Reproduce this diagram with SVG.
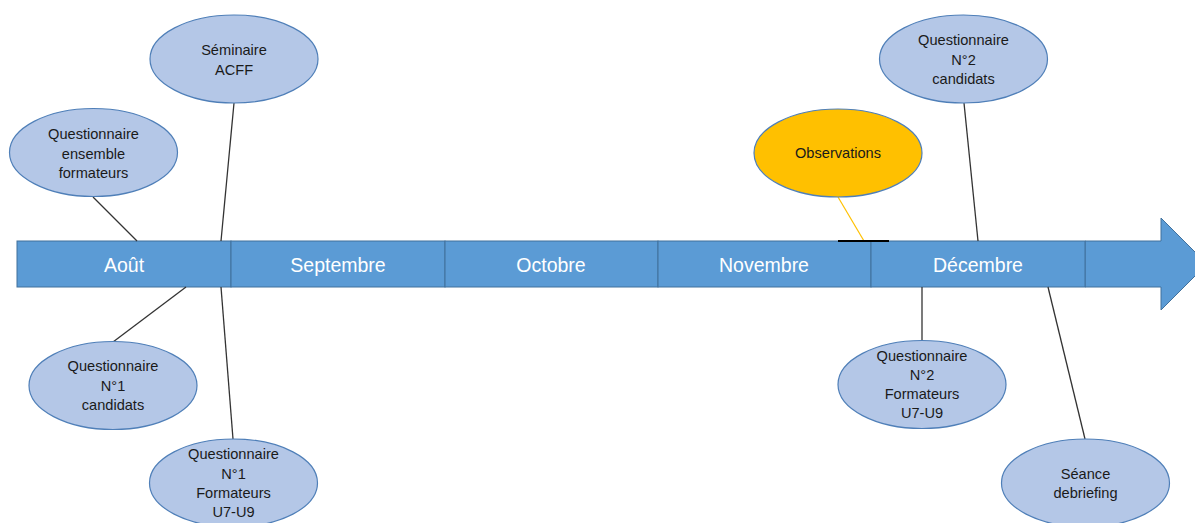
<svg xmlns="http://www.w3.org/2000/svg" width="1195" height="523" viewBox="0 0 1195 523">
<style>
.bg{fill:#ffffff}
.bar{fill:#5B9BD5;stroke:#41719C;stroke-width:1}
.month{font-family:"Liberation Sans",Arial,sans-serif;font-size:19.5px;fill:#ffffff;text-anchor:middle}
.node ellipse{fill:#B4C7E7;stroke:#4F7FB8;stroke-width:1.2}
.node text{font-family:"Liberation Sans",Arial,sans-serif;font-size:14.6px;fill:#1a1a1a;text-anchor:middle}
.obs ellipse{fill:#FFC000;stroke:#4F7FB8;stroke-width:1.2}
.conn line{stroke:#333333;stroke-width:1.3}
</style>
<rect class="bg" x="0" y="0" width="1195" height="523"/>
<g id="timeline">
<path class="bar" d="M1085,241 L1161,241 L1161,218 L1207,264 L1161,310 L1161,287 L1085,287 Z"/>
<rect class="bar" x="17" y="241" width="214" height="46"/>
<rect class="bar" x="231" y="241" width="214" height="46"/>
<rect class="bar" x="445" y="241" width="213" height="46"/>
<rect class="bar" x="658" y="241" width="213" height="46"/>
<rect class="bar" x="871" y="241" width="214" height="46"/>
<text class="month" x="124" y="272">Août</text>
<text class="month" x="338" y="272">Septembre</text>
<text class="month" x="551" y="272">Octobre</text>
<text class="month" x="764" y="272">Novembre</text>
<text class="month" x="978" y="272">Décembre</text>
</g>
<g id="connectors" class="conn">
<line x1="93" y1="197" x2="137" y2="241"/>
<line x1="234" y1="103" x2="221" y2="241"/>
<line x1="221" y1="287" x2="233" y2="439"/>
<line x1="186" y1="287" x2="113" y2="342"/>
<line x1="838" y1="197" x2="864" y2="241" style="stroke:#FFC000;stroke-width:1.2"/>
<line x1="838" y1="241" x2="889" y2="241" style="stroke:#000000;stroke-width:2"/>
<line x1="964" y1="103" x2="978" y2="241"/>
<line x1="922" y1="287" x2="922" y2="341"/>
<line x1="1048" y1="287" x2="1085" y2="439"/>
</g>
<g id="n-seminaire" class="node">
<ellipse cx="234" cy="59" rx="84" ry="44"/>
<text x="234" y="55">Séminaire</text>
<text x="234" y="75">ACFF</text>
</g>
<g id="n-q-ensemble" class="node">
<ellipse cx="93.5" cy="152.5" rx="84" ry="44"/>
<text x="93.5" y="139">Questionnaire</text>
<text x="93.5" y="159">ensemble</text>
<text x="93.5" y="178">formateurs</text>
</g>
<g id="n-q1-candidats" class="node">
<ellipse cx="113" cy="385.5" rx="84" ry="44"/>
<text x="113" y="371">Questionnaire</text>
<text x="113" y="391">N°1</text>
<text x="113" y="410">candidats</text>
</g>
<g id="n-q1-formateurs" class="node">
<ellipse cx="233.5" cy="483" rx="84" ry="44"/>
<text x="233.5" y="459">Questionnaire</text>
<text x="233.5" y="479">N°1</text>
<text x="233.5" y="498">Formateurs</text>
<text x="233.5" y="517">U7-U9</text>
</g>
<g id="n-observations" class="node obs">
<ellipse cx="838" cy="153" rx="84" ry="44"/>
<text x="838" y="158">Observations</text>
</g>
<g id="n-q2-candidats" class="node">
<ellipse cx="963.5" cy="59" rx="84" ry="44"/>
<text x="963.5" y="45">Questionnaire</text>
<text x="963.5" y="65">N°2</text>
<text x="963.5" y="84">candidats</text>
</g>
<g id="n-q2-formateurs" class="node">
<ellipse cx="922" cy="384.5" rx="84" ry="44"/>
<text x="922" y="361">Questionnaire</text>
<text x="922" y="380">N°2</text>
<text x="922" y="399">Formateurs</text>
<text x="922" y="418">U7-U9</text>
</g>
<g id="n-debriefing" class="node">
<ellipse cx="1085.5" cy="483" rx="84" ry="44"/>
<text x="1085.5" y="479">Séance</text>
<text x="1085.5" y="498">debriefing</text>
</g>
</svg>
